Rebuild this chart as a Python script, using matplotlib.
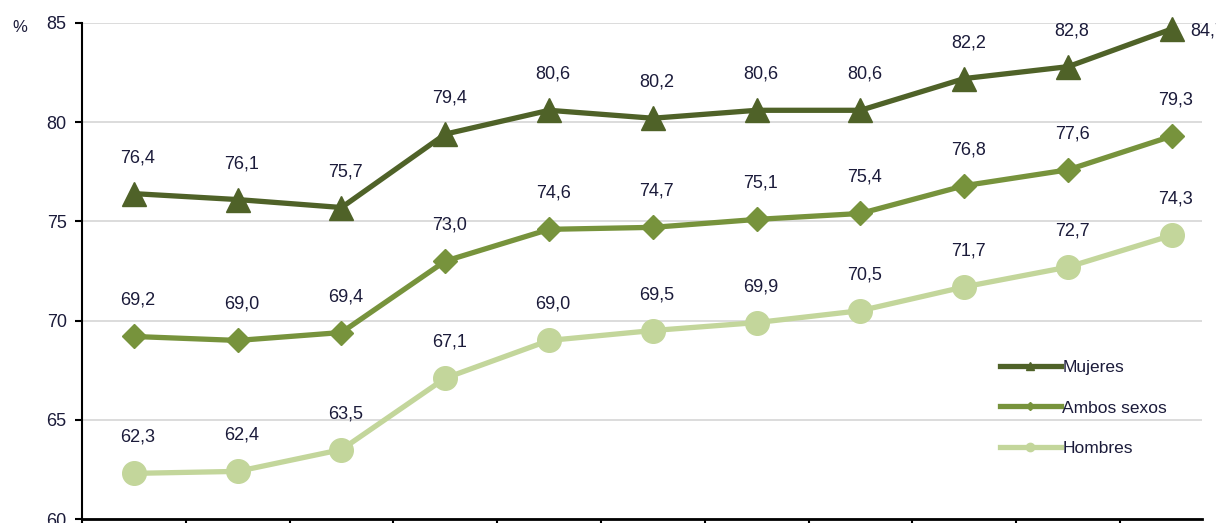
import matplotlib
matplotlib.use('Agg')
import matplotlib.pyplot as plt
from matplotlib.lines import Line2D

plt.rcParams['font.family'] = ['Liberation Sans', 'DejaVu Sans']

# datos (% por año, 11 periodos)
mujeres = [76.4, 76.1, 75.7, 79.4, 80.6, 80.2, 80.6, 80.6, 82.2, 82.8, 84.7]
ambos = [69.2, 69.0, 69.4, 73.0, 74.6, 74.7, 75.1, 75.4, 76.8, 77.6, 79.3]
hombres = [62.3, 62.4, 63.5, 67.1, 69.0, 69.5, 69.9, 70.5, 71.7, 72.7, 74.3]
nombres = ["Mujeres", "Ambos sexos", "Hombres"]
y_ticks = [60, 65, 70, 75, 80, 85]

c_muj = '#4f6228'
c_amb = '#77933c'
c_hom = '#c3d69b'
txt = '#1b1b3a'

fig = plt.figure(figsize=(12.16, 5.23), dpi=100)
ax = fig.add_axes([82/1216, 4/523, (1202-82)/1216, 496/523])

x = list(range(len(mujeres)))
series = [
    (mujeres, c_muj, '^', 17, nombres[0]),
    (ambos, c_amb, 'D', 12.5, nombres[1]),
    (hombres, c_hom, 'o', 17, nombres[2]),
]
for vals, col, mk, ms, lab in series:
    ax.plot(x, vals, color=col, lw=3.8, marker=mk, markersize=ms,
            markeredgecolor=col, zorder=3, clip_on=False)
    for i, v in enumerate(vals):
        s = f"{v:.1f}".replace('.', ',')
        if vals is mujeres and i == len(vals) - 1:
            ax.annotate(s, (i, v), xytext=(18, -2), textcoords='offset pixels',
                        ha='left', va='center', fontsize=13, color=txt,
                        annotation_clip=False)
        else:
            ax.annotate(s, (i, v), xytext=(4, 36), textcoords='offset pixels',
                        ha='center', va='center', fontsize=13, color=txt,
                        annotation_clip=False)

ax.set_ylim(60, 85)
ax.set_yticks(y_ticks)
ax.set_xlim(-0.48, 10.29)
ax.set_xticks([])
ax.set_xticks([i - 0.5 for i in range(11)], minor=True)
ax.tick_params(axis='x', which='minor', direction='out', length=8, width=1.5,
               color='black')
ax.tick_params(axis='y', direction='out', length=5, width=1.5, color='black',
               labelsize=13, labelcolor=txt, pad=6)
ax.grid(axis='y', color='#d9d9d9', lw=1.3)
ax.set_axisbelow(True)
for s in ['top', 'right']:
    ax.spines[s].set_visible(False)
ax.spines['left'].set_linewidth(1.5)
ax.spines['bottom'].set_linewidth(2)

fig.text(20/1216, 1 - 27/523, '%', fontsize=12, color=txt, ha='center', va='center')

handles = [
    Line2D([], [], color=c_muj, lw=3.8, marker='^', markersize=6),
    Line2D([], [], color=c_amb, lw=3.8, marker='D', markersize=4),
    Line2D([], [], color=c_hom, lw=3.8, marker='o', markersize=6),
]
leg = ax.legend(handles, nombres, loc='center left',
                bbox_to_anchor=(993/1216, 1 - 408/523), bbox_transform=fig.transFigure,
                frameon=False, fontsize=12.5, handlelength=3.5, handletextpad=0.1,
                labelspacing=1.45, borderaxespad=0)
for t in leg.get_texts():
    t.set_color(txt)

fig.savefig('out.png', dpi=100)
